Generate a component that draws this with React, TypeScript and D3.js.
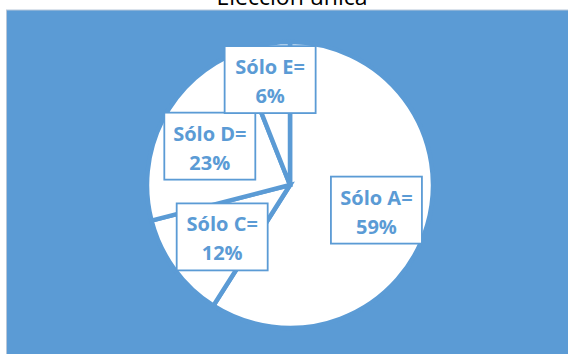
import React from "react";
import * as d3 from "d3";

const categories = ["Sólo A", "Sólo C", "Sólo D", "Sólo E"];
const values = [59, 12, 23, 6];
const labelNudges = [
  [0, 0],
  [5, -1],
  [0, 2],
  [-3, -17],
];

const W = 568;
const H = 354;
const BLUE = "#5B9BD5";

export default function App() {
  const cx = 290;
  const cy = 185;
  const R = 143;
  const pie = d3
    .pie<number>()
    .sort(null)
    .value((d) => d)
    .startAngle(0)
    .endAngle(2 * Math.PI);
  const arcs = pie(values);
  const arcGen = d3.arc<d3.PieArcDatum<number>>().innerRadius(0).outerRadius(R);
  const labelArc = d3.arc<d3.PieArcDatum<number>>().innerRadius(90).outerRadius(90);
  const total = d3.sum(values);
  const bw = 91;
  const bh = 67;

  return (
    <svg
      width={W}
      height={H}
      style={{ position: "absolute", left: 0, top: 0 }}
      xmlns="http://www.w3.org/2000/svg"
    >
      <rect x={0} y={0} width={W} height={H} fill="#ffffff" />
      <rect x={6.5} y={10} width={W} height={H} fill={BLUE} stroke="#b8c7d9" strokeWidth={1} />
      <text
        x={292}
        y={5}
        textAnchor="middle"
        fontFamily="'Open Sans', sans-serif"
        fontSize={23}
        fill="#000"
      >
        Elección única
      </text>
      <g transform={`translate(${cx},${cy})`}>
        {arcs.map((a, i) => (
          <path key={i} d={arcGen(a) || ""} fill="#ffffff" stroke={BLUE} strokeWidth={4.5} strokeLinejoin="miter" />
        ))}
        {arcs.map((a, i) => {
          const [lx, ly] = labelArc.centroid(a);
          const x = lx + labelNudges[i][0];
          const y = ly + labelNudges[i][1];
          const pct = Math.round((values[i] / total) * 100);
          return (
            <g key={"l" + i} transform={`translate(${x},${y})`}>
              <rect
                x={-bw / 2}
                y={-bh / 2}
                width={bw}
                height={bh}
                fill="#ffffff"
                stroke={BLUE}
                strokeWidth={1.8}
              />
              <text
                textAnchor="middle"
                fontFamily="'Open Sans', sans-serif"
                fontWeight="bold"
                fontSize={20}
                fill={BLUE}
              >
                <tspan x={0} y={-bh / 2 + 28}>{categories[i] + "="}</tspan>
                <tspan x={0} y={-bh / 2 + 57}>{pct + "%"}</tspan>
              </text>
            </g>
          );
        })}
      </g>
    </svg>
  );
}
